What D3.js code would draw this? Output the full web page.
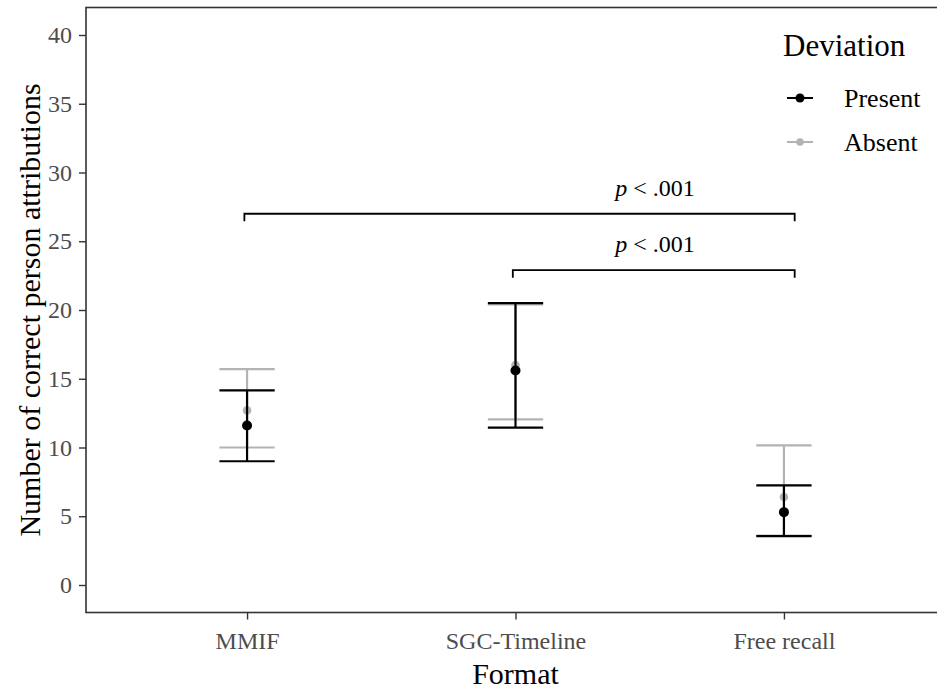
<!DOCTYPE html>
<html>
<head>
<meta charset="utf-8">
<script src="https://cdn.jsdelivr.net/npm/d3@7"></script>
<style>
  body { margin: 0; background: #fff; }
  text { font-family: "Liberation Serif", "Times New Roman", serif; }
</style>
</head>
<body>
<div id="chart"></div>
<script>
// data
var formats = ['MMIF', 'SGC-Timeline', 'Free recall']
var groups = ['Absent', 'Present']          // draw order: absent underneath
var presentMean = [11.6, 15.6, 5.3]
var presentLow  = [9.0, 11.45, 3.55]
var presentHigh = [14.15, 20.5, 7.25]
var absentMean  = [12.7, 16.0, 6.4]
var absentLow   = [10.0, 12.05, 3.6]
var absentHigh  = [15.7, 20.4, 10.15]
var yTicks = [0, 5, 10, 15, 20, 25, 30, 35, 40]
// significance brackets: x in category units (1..3), y in data units
var brackets = [
  {x1: 0.99, x2: 3.04, y: 27.0, label: '< .001', lx: 2.52},
  {x1: 1.99, x2: 3.04, y: 22.9, label: '< .001', lx: 2.52}
]

var width = 937, height = 690
var margins = {top: 7.5, bottom: 77.5, left: 86, right: -8}

var svg = d3.select('#chart').append('svg')
  .attr('width', width)
  .attr('height', height)

var x = d3.scaleLinear().domain([0.4, 3.6]).range([margins.left, width - margins.right])
var y = d3.scaleLinear().domain([-2, 42]).range([height - margins.bottom, margins.top])

var colors = {Present: '#000000', Absent: '#b3b3b3'}
var radius = {Present: 5, Absent: 4.3}

var rows = []
groups.forEach(function (g) {
  var m = g === 'Present' ? presentMean : absentMean
  var lo = g === 'Present' ? presentLow : absentLow
  var hi = g === 'Present' ? presentHigh : absentHigh
  formats.forEach(function (f, i) {
    rows.push({group: g, pos: i + 1, mean: m[i], low: lo[i], high: hi[i]})
  })
})

// panel border
svg.append('rect')
  .attr('x', x(0.4)).attr('y', y(42))
  .attr('width', x(3.6) - x(0.4)).attr('height', y(-2) - y(42))
  .attr('fill', 'none').attr('stroke', '#333').attr('stroke-width', 1.6)

// axes
var yAxis = svg.append('g')
  .attr('transform', 'translate(' + margins.left + ',0)')
  .call(d3.axisLeft(y).tickValues(yTicks).tickSize(7).tickPadding(7))
var xAxis = svg.append('g')
  .attr('transform', 'translate(0,' + (height - margins.bottom) + ')')
  .call(d3.axisBottom(x).tickValues([1, 2, 3]).tickFormat(function (d) { return formats[d - 1] }).tickSize(7).tickPadding(12))

;[yAxis, xAxis].forEach(function (a) {
  a.select('.domain').remove()
  a.selectAll('line').attr('stroke', '#333').attr('stroke-width', 1.4)
  a.selectAll('text').attr('fill', '#4d4d4d').style('font-size', '24px')
    .style('font-family', '"Liberation Serif", serif')
})

svg.append('text')
  .attr('transform', 'translate(40,' + y(20) + ') rotate(-90)')
  .attr('text-anchor', 'middle')
  .style('font-size', '30px')
  .text('Number of correct person attributions')

svg.append('text')
  .attr('x', x(2)).attr('y', 684)
  .attr('text-anchor', 'middle')
  .style('font-size', '30px')
  .text('Format')

// error bars
var capHalf = 0.103
var bars = svg.append('g').selectAll('g').data(rows).enter().append('g')
bars.append('line')
  .attr('x1', function (d) { return x(d.pos) }).attr('x2', function (d) { return x(d.pos) })
  .attr('y1', function (d) { return y(d.low) }).attr('y2', function (d) { return y(d.high) })
bars.append('line')
  .attr('x1', function (d) { return x(d.pos - capHalf) }).attr('x2', function (d) { return x(d.pos + capHalf) })
  .attr('y1', function (d) { return y(d.high) }).attr('y2', function (d) { return y(d.high) })
bars.append('line')
  .attr('x1', function (d) { return x(d.pos - capHalf) }).attr('x2', function (d) { return x(d.pos + capHalf) })
  .attr('y1', function (d) { return y(d.low) }).attr('y2', function (d) { return y(d.low) })
bars.selectAll('line')
  .attr('stroke', function (d) { return colors[d.group] })
  .attr('stroke-width', 2.2)
bars.append('circle')
  .attr('cx', function (d) { return x(d.pos) })
  .attr('cy', function (d) { return y(d.mean) })
  .attr('r', function (d) { return radius[d.group] })
  .attr('fill', function (d) { return colors[d.group] })

// significance brackets
var sig = svg.append('g').selectAll('g').data(brackets).enter().append('g')
sig.append('path')
  .attr('d', function (d) {
    return 'M' + x(d.x1) + ',' + y(d.y - 0.55) + 'V' + y(d.y) + 'H' + x(d.x2) + 'V' + y(d.y - 0.55)
  })
  .attr('fill', 'none').attr('stroke', '#000').attr('stroke-width', 1.8)
var sigText = sig.append('text')
  .attr('x', function (d) { return x(d.lx) })
  .attr('y', function (d) { return y(d.y) - 18 })
  .attr('text-anchor', 'middle')
  .style('font-size', '24px')
sigText.append('tspan').style('font-style', 'italic').text('p')
sigText.append('tspan').text(function (d) { return ' ' + d.label })

// legend
var legend = svg.append('g').attr('transform', 'translate(783,0)')
legend.append('text').attr('x', 0).attr('y', 56).style('font-size', '31px').text('Deviation')
var legendItems = ['Present', 'Absent']
legendItems.forEach(function (g, i) {
  var ly = 98 + i * 44
  legend.append('line').attr('x1', 4).attr('x2', 30).attr('y1', ly).attr('y2', ly)
    .attr('stroke', colors[g]).attr('stroke-width', 2)
  legend.append('circle').attr('cx', 17).attr('cy', ly).attr('r', radius[g] - 0.5).attr('fill', colors[g])
  legend.append('text').attr('x', 61).attr('y', ly + 9).style('font-size', '26px').text(g)
})
</script>
</body>
</html>
